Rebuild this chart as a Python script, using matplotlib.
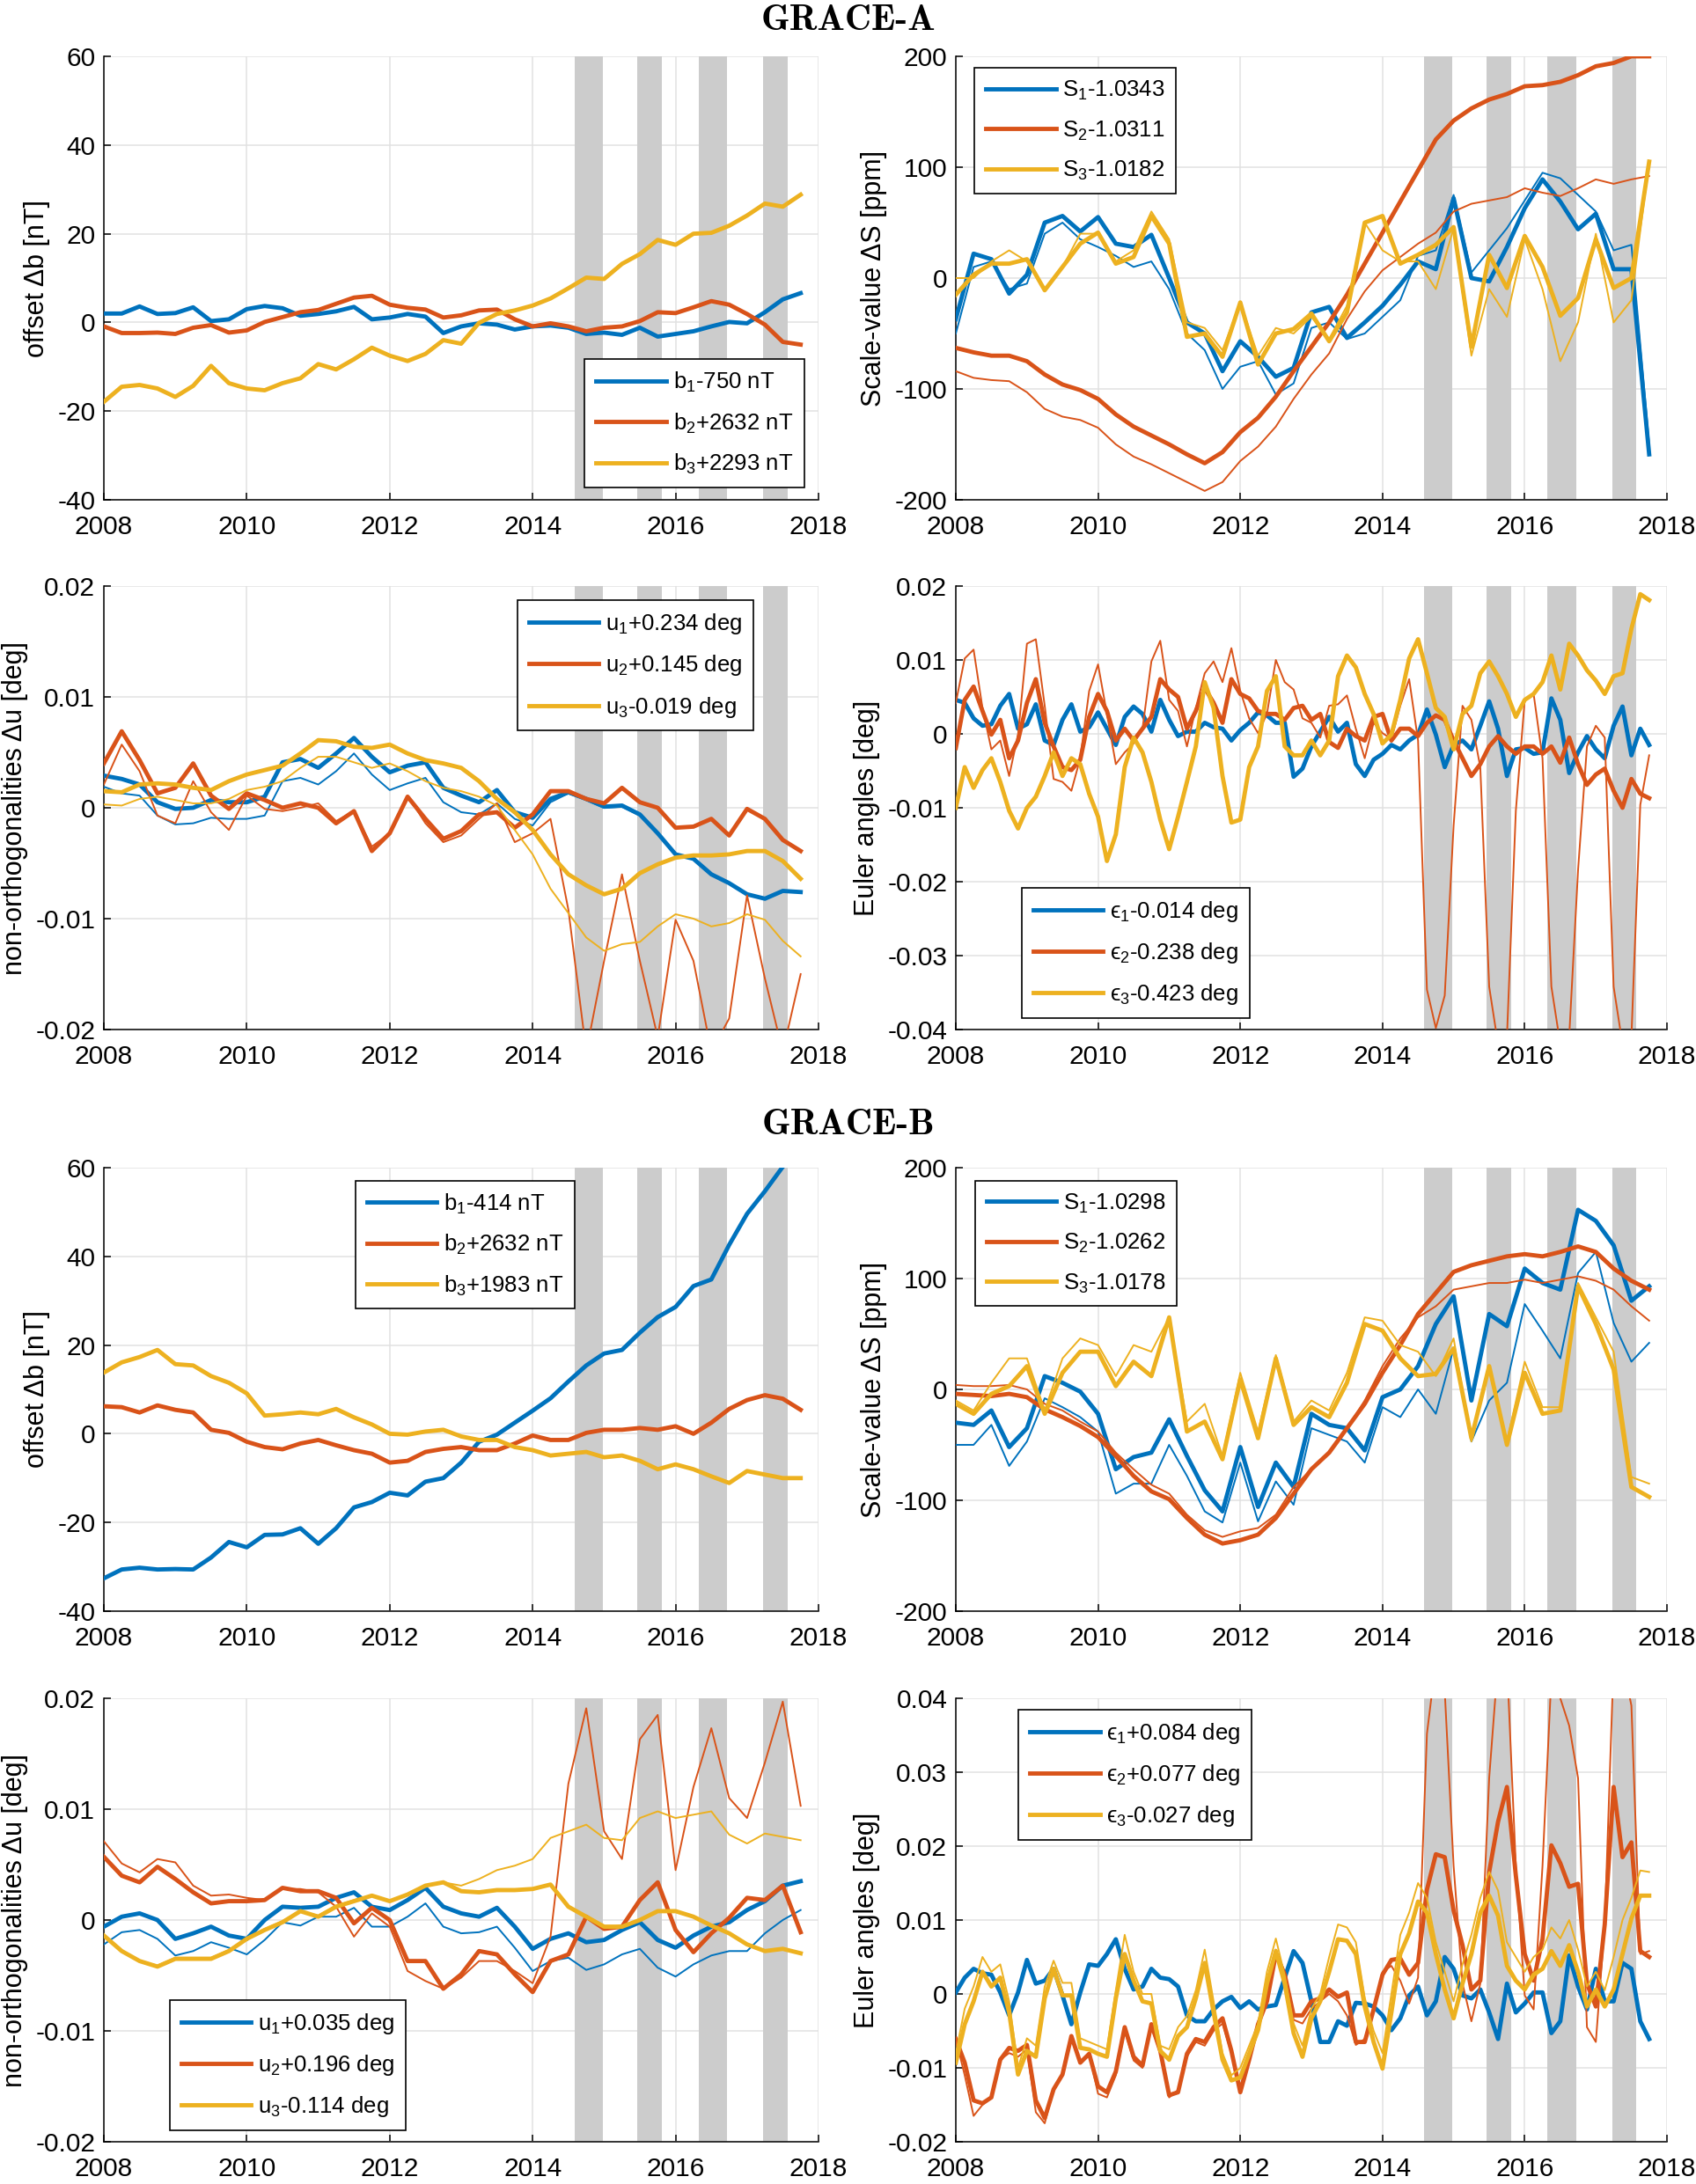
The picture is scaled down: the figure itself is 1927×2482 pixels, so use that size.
import numpy as np
import matplotlib
matplotlib.use('Agg')
import matplotlib.pyplot as plt
from matplotlib.ticker import FuncFormatter

plt.rcParams['font.family'] = ['Liberation Sans', 'DejaVu Sans']
plt.rcParams['mathtext.fontset'] = 'custom'
plt.rcParams['mathtext.rm'] = 'Liberation Sans'
plt.rcParams['mathtext.it'] = 'Liberation Sans:italic'
plt.rcParams['axes.unicode_minus'] = False

# MATLAB default colours
c1, c2, c3 = '#0072BD', '#D95319', '#EDB120'

# time axes: quarterly and eighth-year samples
t4 = 2008 + np.arange(40) / 4.0
t8 = 2008 + np.arange(79) / 8.0

# grey bands (periods of special operation)
bands = [(2014.59, 2014.98), (2015.46, 2015.81), (2016.32, 2016.72), (2017.23, 2017.57)]

# ---------------- GRACE-A ----------------
# offsets [nT]
a_b1 = [2.0, 2.0, 3.6, 1.9, 2.1, 3.4, 0.3, 0.7, 3.0, 3.7, 3.2, 1.5, 1.9, 2.5, 3.5, 0.7,
        1.1, 1.9, 1.3, -2.4, -0.9, -0.2, -0.5, -1.6, -0.9, -0.7, -1.2, -2.6, -2.3, -2.8, -1.2, -3.2,
        -2.6, -2.0, -0.9, 0.1, -0.2, 2.3, 5.2, 6.6]
a_b2 = [-0.9, -2.4, -2.4, -2.3, -2.6, -1.2, -0.6, -2.3, -1.8, 0.1, 1.2, 2.3, 2.8, 4.2, 5.6, 6.0,
        4.0, 3.3, 2.9, 1.1, 1.6, 2.7, 2.9, 0.7, -0.9, -0.2, -0.9, -2.0, -1.2, -0.9, 0.3, 2.3,
        2.1, 3.4, 4.8, 4.0, 1.9, -0.5, -4.4, -5.0]
a_b3 = [-17.9, -14.5, -14.1, -14.9, -16.8, -14.3, -9.8, -13.7, -14.9, -15.3, -13.7, -12.6,
        -9.4, -10.6, -8.3, -5.7, -7.5, -8.7, -7.1, -4.0, -4.8, -0.1, 1.9, 2.7, 3.8, 5.4, 7.7, 10.1,
        9.8, 13.2, 15.4, 18.6, 17.5, 20.0, 20.2, 21.8, 24.1, 26.8, 26.1, 28.8]

# scale values [ppm]
a_s1 = [-37, 22, 17, -14, 3, 50, 56, 42, 55, 31, 28, 39, 0, -40, -50, -84, -57, -71, -89, -81,
        -31, -26, -54, -40, -25, -6, 15, 8, 72, 0, -3, 28, 63, 89, 69, 44, 58, 8, 8, -159]
a_s1_thin = [-50, 10, 15, -10, -5, 40, 50, 35, 28, 20, 10, 15, -10, -50, -65, -100, -80, -75, -105, -95,
             -45, -40, -55, -50, -35, -20, 20, 25, 75, 5, 25, 45, 70, 95, 90, 75, 60, 25, 30, -150]
a_s2 = [-63, -67, -70, -70, -75, -87, -96, -101, -109, -123, -134, -142, -150, -159, -167, -157,
        -139, -126, -107, -84, -62, -40, -15, 13, 41, 69, 97, 125, 142, 153, 161, 166,
        173, 174, 177, 183, 191, 194, 200, 200]
a_s2_thin = [-84, -90, -92, -93, -103, -118, -125, -128, -135, -150, -161, -168, -176, -184, -192, -184,
             -165, -152, -134, -109, -87, -68, -37, -12, 7, 19, 31, 41, 60, 67, 70, 73,
             81, 77, 74, 81, 89, 85, 89, 92]
a_s3 = [-15, 3, 13, 13, 17, -11, 10, 31, 41, 13, 19, 56, 31, -53, -50, -71, -22, -78, -50, -46,
        -32, -57, -31, 50, 56, 13, 21, 30, 46, -62, 21, -9, 38, 10, -34, -18, 35, -9, 0, 105]
a_s3_thin = [0, 0, 15, 25, 15, -10, 10, 40, 40, 15, 25, 60, 35, -40, -45, -65, -22, -70, -45, -50,
             -35, -55, -25, 50, 25, 15, 15, -10, 45, -70, -10, -35, 35, -10, -75, -40, 40, -40, -20, 105]

# non-orthogonalities [deg]
a_u1 = [0.0029, 0.0026, 0.0021, 0.0005, -0.0001, 0.0000, 0.0007, 0.0005, 0.0005, 0.0010, 0.0041, 0.0044,
        0.0036, 0.0049, 0.0063, 0.0046, 0.0032, 0.0038, 0.0041, 0.0018, 0.0011, 0.0005, 0.0016, -0.0004,
        -0.0009, 0.0008, 0.0014, 0.0008, 0.0001, 0.0002, -0.0006, -0.0023, -0.0042, -0.0046, -0.0060, -0.0068,
        -0.0078, -0.0082, -0.0075, -0.0076]
a_u1_thin = [0.0019, 0.0013, 0.0011, -0.0007, -0.0015, -0.0014, -0.0009, -0.0010, -0.0010, -0.0007, 0.0024, 0.0027,
             0.0021, 0.0033, 0.0049, 0.0030, 0.0016, 0.0022, 0.0027, 0.0005, -0.0004, -0.0006, 0.0004, -0.0010,
             -0.0016, 0.0005, 0.0013, 0.0007, 0.0000, 0.0001, -0.0007, -0.0023, -0.0042, -0.0046, -0.0060, -0.0068,
             -0.0078, -0.0082, -0.0075, -0.0076]
a_u2 = [0.0040, 0.0069, 0.0043, 0.0013, 0.0018, 0.0040, 0.0011, -0.0001, 0.0013, 0.0007, 0.0000, 0.0004,
        0.0000, -0.0014, -0.0003, -0.0039, -0.0023, 0.0010, -0.0010, -0.0028, -0.0021, -0.0006, -0.0004, -0.0018,
        -0.0006, 0.0015, 0.0015, 0.0008, 0.0004, 0.0018, 0.0005, 0.0000, -0.0018, -0.0017, -0.0010, -0.0025,
        -0.0001, -0.0010, -0.0029, -0.0039]
a_u2_thin = [0.0021, 0.0057, 0.0033, -0.0007, -0.0014, 0.0024, -0.0004, -0.0020, 0.0011, -0.0001, -0.0003, 0.0000,
             0.0004, -0.0012, -0.0003, -0.0035, -0.0023, 0.0011, -0.0014, -0.0031, -0.0025, -0.0010, 0.0004, -0.0031,
             -0.0023, -0.0010, -0.0092, -0.0220, -0.0138, -0.0060, -0.0138, -0.0207, -0.0101, -0.0138, -0.0220, -0.0190,
             -0.0079, -0.0154, -0.0220, -0.0150]
a_u3 = [0.0015, 0.0014, 0.0021, 0.0022, 0.0021, 0.0018, 0.0016, 0.0024, 0.0030, 0.0034, 0.0038, 0.0049,
        0.0061, 0.0060, 0.0055, 0.0054, 0.0057, 0.0049, 0.0043, 0.0040, 0.0036, 0.0024, 0.0008, -0.0004,
        -0.0020, -0.0042, -0.0060, -0.0070, -0.0078, -0.0073, -0.0059, -0.0051, -0.0045, -0.0043, -0.0043, -0.0042,
        -0.0039, -0.0039, -0.0048, -0.0064]
a_u3_thin = [0.0003, 0.0002, 0.0008, 0.0010, 0.0007, 0.0004, 0.0004, 0.0008, 0.0016, 0.0019, 0.0024, 0.0036,
             0.0046, 0.0046, 0.0041, 0.0036, 0.0040, 0.0033, 0.0024, 0.0018, 0.0015, 0.0010, 0.0002, -0.0020,
             -0.0042, -0.0073, -0.0095, -0.0117, -0.0129, -0.0123, -0.0121, -0.0107, -0.0096, -0.0100, -0.0107, -0.0104,
             -0.0096, -0.0101, -0.0120, -0.0134]

# Euler angles [deg], eighth-year samples
a_e1 = [0.0046, 0.0042, 0.0021, 0.0011, 0.0013, 0.0038, 0.0054, 0.0007,
        0.0013, 0.0040, -0.0009, -0.0015, 0.0019, 0.0040, 0.0003, 0.0009,
        0.0029, 0.0007, -0.0015, 0.0023, 0.0037, 0.0027, 0.0003, 0.0046,
        0.0019, -0.0003, 0.0003, 0.0003, 0.0015, 0.0009, 0.0007, -0.0009,
        0.0005, 0.0015, 0.0029, 0.0025, 0.0015, 0.0015, -0.0058, -0.0047,
        -0.0017, 0.0003, 0.0023, 0.0003, 0.0015, -0.0041, -0.0057, -0.0035,
        -0.0027, -0.0015, -0.0021, -0.0009, -0.0001, 0.0033, -0.0001, -0.0045,
        -0.0015, -0.0009, -0.0021, 0.0011, 0.0044, 0.0007, -0.0057, -0.0021,
        -0.0019, -0.0027, -0.0025, 0.0048, 0.0019, -0.0053, -0.0025, -0.0003,
        -0.0021, -0.0033, 0.0011, 0.0037, -0.0029, 0.0007, -0.0015]
a_e2 = [-0.0019, 0.0046, 0.0064, 0.0031, -0.0001, 0.0019, -0.0033, -0.0009,
        0.0042, 0.0074, 0.0015, -0.0017, -0.0045, -0.0049, -0.0035, 0.0023,
        0.0054, 0.0031, -0.0009, 0.0007, -0.0009, 0.0007, 0.0023, 0.0074,
        0.0060, 0.0050, 0.0007, 0.0031, 0.0062, 0.0042, 0.0015, 0.0074,
        0.0054, 0.0048, 0.0031, 0.0027, 0.0027, 0.0019, 0.0035, 0.0038,
        0.0019, 0.0027, -0.0011, -0.0019, 0.0007, -0.0003, -0.0009, 0.0023,
        0.0027, -0.0009, 0.0007, 0.0007, -0.0003, 0.0015, 0.0025, 0.0019,
        -0.0009, -0.0033, -0.0057, -0.0041, -0.0017, -0.0003, -0.0017, -0.0027,
        -0.0017, -0.0017, -0.0027, -0.0017, -0.0039, -0.0005, -0.0041, -0.0069,
        -0.0055, -0.0047, -0.0077, -0.0100, -0.0061, -0.0081, -0.0087]
a_e2_thin = [0.0042, 0.0102, 0.0114, 0.0035, -0.0021, -0.0009, -0.0057, -0.0001,
             0.0122, 0.0128, 0.0038, -0.0061, -0.0065, -0.0077, -0.0033, 0.0058,
             0.0094, 0.0027, -0.0041, -0.0025, -0.0013, 0.0007, 0.0098, 0.0126,
             0.0046, 0.0031, -0.0017, 0.0035, 0.0082, 0.0098, 0.0070, 0.0116,
             0.0058, 0.0021, 0.0001, 0.0027, 0.0100, 0.0070, 0.0060, 0.0021,
             0.0015, -0.0005, 0.0038, 0.0040, 0.0052, 0.0007, -0.0033, 0.0015,
             0.0001, -0.0007, 0.0038, 0.0074, -0.0009, -0.0346, -0.0398, -0.0354,
             -0.0124, 0.0038, 0.0019, -0.0045, -0.0342, -0.0420, -0.0410, -0.0104,
             0.0046, 0.0054, -0.0033, -0.0342, -0.0420, -0.0410, -0.0184, -0.0017,
             0.0011, -0.0005, -0.0342, -0.0420, -0.0410, -0.0096, -0.0029]
a_e3 = [-0.0100, -0.0045, -0.0073, -0.0049, -0.0033, -0.0065, -0.0104, -0.0128,
        -0.0100, -0.0085, -0.0057, -0.0025, -0.0057, -0.0033, -0.0041, -0.0081,
        -0.0112, -0.0172, -0.0136, -0.0045, -0.0005, -0.0025, -0.0065, -0.0116,
        -0.0156, -0.0112, -0.0065, -0.0017, 0.0070, 0.0035, -0.0057, -0.0120,
        -0.0116, -0.0045, -0.0017, 0.0058, 0.0078, -0.0017, -0.0029, -0.0029,
        -0.0009, -0.0029, -0.0009, 0.0078, 0.0106, 0.0090, 0.0054, 0.0027,
        -0.0013, -0.0001, 0.0046, 0.0102, 0.0128, 0.0082, 0.0035, 0.0023,
        -0.0021, 0.0027, 0.0038, 0.0082, 0.0098, 0.0078, 0.0054, 0.0023,
        0.0046, 0.0054, 0.0070, 0.0106, 0.0060, 0.0122, 0.0106, 0.0086,
        0.0072, 0.0054, 0.0078, 0.0082, 0.0142, 0.0189, 0.0181]

# ---------------- GRACE-B ----------------
b_b1 = [-32.6, -30.6, -30.2, -30.6, -30.5, -30.6, -27.9, -24.4, -25.6, -22.8, -22.7, -21.3,
        -24.8, -21.3, -16.6, -15.4, -13.3, -13.9, -10.8, -10.0, -6.5, -1.8, -0.2, 2.5,
        5.2, 8.0, 11.8, 15.4, 18.1, 18.9, 22.8, 26.3, 28.6, 33.3, 34.8, 42.6, 49.6, 54.7, 60.2, 64.0]
b_b2 = [6.2, 6.0, 4.8, 6.4, 5.4, 4.8, 0.9, 0.2, -1.8, -3.0, -3.5, -2.2, -1.4, -2.6, -3.7, -4.5,
        -6.5, -6.1, -4.1, -3.4, -3.0, -3.7, -3.7, -2.2, -0.4, -1.4, -1.4, 0.2, 0.9, 0.9, 1.3, 0.9,
        1.7, 0.0, 2.5, 5.6, 7.6, 8.7, 7.9, 5.4]
b_b3 = [13.8, 16.1, 17.3, 18.9, 15.7, 15.4, 13.0, 11.5, 9.1, 4.1, 4.4, 4.8, 4.4, 5.6, 3.7, 2.1,
        0.0, -0.2, 0.5, 0.9, -0.6, -1.4, -1.4, -3.0, -3.7, -4.9, -4.5, -4.1, -5.3, -4.9, -6.1, -8.0,
        -6.9, -8.0, -9.6, -11.1, -8.4, -9.2, -10.0, -10.0]

b_s1 = [-30, -32, -19, -52, -35, 12, 6, -2, -22, -72, -61, -57, -27, -60, -91, -110,
        -52, -106, -66, -88, -22, -32, -35, -55, -7, 0, 21, 59, 84, -10, 68, 57,
        109, 96, 90, 162, 152, 130, 80, 93]
b_s1_thin = [-50, -50, -32, -69, -47, -8, -16, -25, -38, -94, -85, -85, -50, -78, -110, -120,
             -66, -119, -83, -104, -35, -41, -47, -66, -16, -25, 0, -22, 37, -47, -10, 6,
             77, 53, 28, 105, 124, 60, 25, 42]
b_s2 = [-4, -5, -6, -4, -7, -18, -25, -33, -43, -60, -78, -92, -99, -116, -131, -139,
        -136, -131, -116, -94, -72, -57, -35, -13, 15, 40, 68, 87, 106, 112, 116, 120,
        122, 120, 124, 129, 124, 109, 98, 90]
b_s2_thin = [4, 3, 3, 4, 0, -13, -19, -29, -38, -57, -72, -86, -94, -113, -127, -133,
             -128, -125, -113, -88, -72, -57, -35, -10, 21, 46, 65, 75, 90, 93, 96, 96,
             99, 96, 99, 102, 98, 90, 75, 62]
b_s3 = [-13, -22, -4, 3, 21, -22, 15, 34, 34, 3, 25, 12, 65, -38, -29, -63,
        9, -44, 28, -32, -16, -25, 6, 59, 53, 28, 12, 14, 37, -44, 21, -50,
        15, -22, -19, 93, 59, 18, -88, -97]
b_s3_thin = [-10, -19, 6, 28, 28, -19, 28, 46, 40, 12, 40, 34, 65, -29, -13, -60,
             15, -38, 31, -29, -10, -19, 15, 65, 62, 40, 34, 12, 46, -47, 21, -47,
             25, -16, -16, 96, 65, 34, -79, -85]

b_u1 = [-0.0006, 0.0003, 0.0006, 0.0000, -0.0017, -0.0012, -0.0006, -0.0014, -0.0017, 0.0000, 0.0012, 0.0011,
        0.0012, 0.0020, 0.0025, 0.0012, 0.0009, 0.0018, 0.0029, 0.0012, 0.0006, 0.0003, 0.0011, -0.0006,
        -0.0026, -0.0017, -0.0012, -0.0020, -0.0018, -0.0009, -0.0002, -0.0018, -0.0025, -0.0014, -0.0006, -0.0002,
        0.0009, 0.0017, 0.0031, 0.0035]
b_u1_thin = [-0.0022, -0.0011, -0.0009, -0.0017, -0.0032, -0.0028, -0.0020, -0.0025, -0.0031, -0.0018, -0.0002, -0.0005,
             0.0003, 0.0003, 0.0011, -0.0006, -0.0006, 0.0003, 0.0015, -0.0006, -0.0012, -0.0011, -0.0006, -0.0025,
             -0.0046, -0.0037, -0.0034, -0.0045, -0.0040, -0.0031, -0.0026, -0.0043, -0.0051, -0.0040, -0.0032, -0.0028,
             -0.0028, -0.0012, 0.0000, 0.0009]
b_u2 = [0.0057, 0.0040, 0.0034, 0.0048, 0.0037, 0.0025, 0.0015, 0.0017, 0.0017, 0.0018, 0.0029, 0.0026,
        0.0026, 0.0020, -0.0003, 0.0011, 0.0000, -0.0037, -0.0037, -0.0062, -0.0049, -0.0028, -0.0031, -0.0049,
        -0.0065, -0.0037, -0.0031, 0.0003, -0.0008, -0.0006, 0.0018, 0.0034, -0.0009, -0.0029, -0.0012, 0.0002,
        0.0020, 0.0018, 0.0031, -0.0011]
b_u2_thin = [0.0071, 0.0051, 0.0043, 0.0055, 0.0052, 0.0031, 0.0022, 0.0023, 0.0020, 0.0018, 0.0028, 0.0028,
             0.0025, 0.0012, -0.0015, 0.0006, -0.0006, -0.0046, -0.0055, -0.0062, -0.0052, -0.0037, -0.0037, -0.0046,
             -0.0057, -0.0015, 0.0123, 0.0191, 0.0080, 0.0055, 0.0163, 0.0185, 0.0045, 0.0120, 0.0173, 0.0110,
             0.0092, 0.0142, 0.0197, 0.0103]
b_u3 = [-0.0014, -0.0028, -0.0037, -0.0042, -0.0035, -0.0035, -0.0035, -0.0028, -0.0017, -0.0009, -0.0002, 0.0008,
        0.0003, 0.0012, 0.0017, 0.0022, 0.0017, 0.0023, 0.0031, 0.0034, 0.0026, 0.0025, 0.0027, 0.0027,
        0.0028, 0.0032, 0.0012, 0.0003, -0.0006, -0.0006, 0.0000, 0.0008, 0.0008, 0.0003, -0.0005, -0.0012,
        -0.0022, -0.0028, -0.0026, -0.0030]
b_u3_thin = [-0.0014, -0.0028, -0.0037, -0.0041, -0.0034, -0.0034, -0.0034, -0.0027, -0.0016, -0.0008, -0.0001, 0.0008,
             0.0004, 0.0013, 0.0018, 0.0022, 0.0017, 0.0023, 0.0031, 0.0034, 0.0031, 0.0037, 0.0045, 0.0049,
             0.0055, 0.0074, 0.0080, 0.0086, 0.0074, 0.0072, 0.0092, 0.0098, 0.0092, 0.0095, 0.0098, 0.0077,
             0.0069, 0.0078, 0.0075, 0.0072]

b_e1 = [0.0002, 0.0022, 0.0034, 0.0028, 0.0026, 0.0002, -0.0029, 0.0002,
        0.0046, 0.0014, 0.0018, 0.0034, -0.0002, -0.0041, 0.0002, 0.0040,
        0.0038, 0.0054, 0.0074, 0.0034, 0.0006, 0.0010, 0.0034, 0.0022,
        0.0020, 0.0010, -0.0029, -0.0037, -0.0037, -0.0021, -0.0010, -0.0004,
        -0.0019, -0.0010, -0.0021, -0.0017, -0.0015, 0.0022, 0.0058, 0.0042,
        -0.0010, -0.0065, -0.0065, -0.0037, -0.0043, -0.0012, -0.0013, -0.0017,
        -0.0029, -0.0049, -0.0033, -0.0002, 0.0010, -0.0029, -0.0010, 0.0050,
        0.0034, -0.0002, -0.0006, 0.0006, -0.0025, -0.0061, 0.0014, -0.0025,
        -0.0013, 0.0002, 0.0002, -0.0053, -0.0037, 0.0052, 0.0010, -0.0021,
        0.0034, -0.0010, -0.0010, 0.0042, 0.0034, -0.0037, -0.0061]
b_e2 = [-0.0061, -0.0093, -0.0144, -0.0148, -0.0140, -0.0089, -0.0073, -0.0077,
        -0.0069, -0.0144, -0.0168, -0.0129, -0.0109, -0.0057, -0.0093, -0.0081,
        -0.0125, -0.0133, -0.0105, -0.0045, -0.0085, -0.0097, -0.0041, -0.0077,
        -0.0137, -0.0133, -0.0081, -0.0061, -0.0065, -0.0045, -0.0033, -0.0077,
        -0.0133, -0.0089, -0.0041, -0.0010, 0.0054, 0.0026, -0.0029, -0.0029,
        -0.0010, -0.0006, 0.0006, -0.0004, 0.0002, -0.0065, -0.0065, -0.0021,
        0.0026, 0.0046, 0.0048, 0.0026, 0.0042, 0.0141, 0.0189, 0.0185,
        0.0113, 0.0066, 0.0006, 0.0018, 0.0165, 0.0233, 0.0280, 0.0160,
        0.0054, 0.0018, 0.0074, 0.0201, 0.0177, 0.0145, 0.0149, 0.0014,
        -0.0017, 0.0094, 0.0280, 0.0185, 0.0205, 0.0058, 0.0050]
b_e2_thin = [-0.0061, -0.0110, -0.0165, -0.0150, -0.0140, -0.0089, -0.0080, -0.0085,
             -0.0075, -0.0160, -0.0175, -0.0129, -0.0109, -0.0060, -0.0093, -0.0081,
             -0.0135, -0.0140, -0.0110, -0.0050, -0.0090, -0.0100, -0.0045, -0.0080,
             -0.0140, -0.0130, -0.0085, -0.0065, -0.0070, -0.0050, -0.0040, -0.0080,
             -0.0125, -0.0085, -0.0040, -0.0010, 0.0060, 0.0030, -0.0035, -0.0040,
             -0.0020, -0.0010, 0.0000, -0.0010, -0.0029, -0.0069, -0.0061, -0.0021,
             0.0030, 0.0038, 0.0018, -0.0013, 0.0022, 0.0352, 0.0450, 0.0410,
             0.0173, 0.0014, -0.0037, 0.0014, 0.0292, 0.0450, 0.0450, 0.0173,
             -0.0002, -0.0021, 0.0173, 0.0430, 0.0400, 0.0363, 0.0292, -0.0045,
             -0.0065, 0.0094, 0.0450, 0.0450, 0.0390, 0.0054, 0.0058]
b_e3 = [-0.0093, -0.0041, -0.0010, 0.0030, 0.0010, 0.0022, -0.0025, -0.0109,
        -0.0077, -0.0085, -0.0006, 0.0034, -0.0002, -0.0002, -0.0073, -0.0075,
        -0.0081, -0.0085, -0.0006, 0.0054, 0.0018, -0.0010, -0.0013, -0.0077,
        -0.0089, -0.0057, -0.0045, -0.0006, 0.0042, -0.0025, -0.0089, -0.0117,
        -0.0113, -0.0081, -0.0049, 0.0014, 0.0058, 0.0014, -0.0053, -0.0085,
        -0.0033, -0.0010, 0.0030, 0.0074, 0.0072, 0.0054, -0.0017, -0.0065,
        -0.0101, -0.0025, 0.0054, 0.0082, 0.0125, 0.0110, 0.0054, 0.0006,
        -0.0033, 0.0014, 0.0054, 0.0110, 0.0133, 0.0106, 0.0038, 0.0018,
        0.0006, 0.0026, 0.0034, 0.0058, 0.0038, 0.0066, 0.0030, -0.0017,
        0.0006, -0.0017, 0.0006, 0.0054, 0.0102, 0.0133, 0.0133]
b_e3_thin = [-0.0080, -0.0020, 0.0010, 0.0050, 0.0030, 0.0040, -0.0010, -0.0100,
             -0.0060, -0.0070, 0.0010, 0.0045, 0.0015, 0.0015, -0.0060, -0.0065,
             -0.0070, -0.0075, 0.0005, 0.0080, 0.0030, 0.0000, 0.0000, -0.0070,
             -0.0075, -0.0045, -0.0030, 0.0005, 0.0060, -0.0010, -0.0080, -0.0110,
             -0.0100, -0.0070, -0.0040, 0.0030, 0.0075, 0.0025, -0.0040, -0.0070,
             -0.0020, 0.0000, 0.0050, 0.0094, 0.0090, 0.0070, -0.0005, -0.0050,
             -0.0080, 0.0000, 0.0080, 0.0110, 0.0150, 0.0130, 0.0070, 0.0030,
             -0.0010, 0.0040, 0.0080, 0.0130, 0.0165, 0.0140, 0.0070, 0.0050,
             0.0030, 0.0050, 0.0060, 0.0090, 0.0075, 0.0100, 0.0060, 0.0010,
             0.0030, 0.0005, 0.0050, 0.0100, 0.0130, 0.0167, 0.0165]

# legend texts
leg_a1 = ['b$_1$-750 nT', 'b$_2$+2632 nT', 'b$_3$+2293 nT']
leg_a2 = ['S$_1$-1.0343', 'S$_2$-1.0311', 'S$_3$-1.0182']
leg_a3 = ['u$_1$+0.234 deg', 'u$_2$+0.145 deg', 'u$_3$-0.019 deg']
leg_a4 = ['\u03f5$_1$-0.014 deg', '\u03f5$_2$-0.238 deg', '\u03f5$_3$-0.423 deg']
leg_b1 = ['b$_1$-414 nT', 'b$_2$+2632 nT', 'b$_3$+1983 nT']
leg_b2 = ['S$_1$-1.0298', 'S$_2$-1.0262', 'S$_3$-1.0178']
leg_b3 = ['u$_1$+0.035 deg', 'u$_2$+0.196 deg', 'u$_3$-0.114 deg']
leg_b4 = ['\u03f5$_1$+0.084 deg', '\u03f5$_2$+0.077 deg', '\u03f5$_3$-0.027 deg']

W, H = 1927, 2482
fig = plt.figure(figsize=(W / 100, H / 100), dpi=100, facecolor='w')

cols = [118 / W, 1086 / W]
widths = [812 / W, 808 / W]
row_bottoms = [568, 1170, 1831, 2434]
ah = 504 / H


def panel(row, col, t, thick, thin, labels, ylim, yticks, ylabel, loc, anchor):
    ax = fig.add_axes([cols[col], 1 - row_bottoms[row] / H, widths[col], ah])
    for a, b in bands:
        ax.axvspan(a, b, color='#cccccc', lw=0, zorder=1)
    lines = []
    for y1, y2, c in zip(thick, thin, [c1, c2, c3]):
        ln, = ax.plot(t, y1, color=c, lw=3.5, zorder=3)
        ax.plot(t, y2, color=c, lw=1.4, zorder=3)
        lines.append(ln)
    ax.set_xlim(2008, 2018)
    ax.set_ylim(*ylim)
    ax.set_xticks([2008, 2010, 2012, 2014, 2016, 2018])
    ax.set_yticks(yticks)
    ax.yaxis.set_major_formatter(FuncFormatter(lambda v, p: '%g' % round(v, 6)))
    ax.set_axisbelow(True)
    ax.grid(True, color='#e1e1e1', lw=1.1)
    for s in ['top', 'right']:
        ax.spines[s].set_visible(False)
    for s in ['left', 'bottom']:
        ax.spines[s].set_linewidth(1.1)
    ax.tick_params(direction='in', length=6, width=1.1, labelsize=21.5, top=False, right=False)
    ax.tick_params(axis='x', pad=12)
    ax.tick_params(axis='y', pad=7)
    ax.set_ylabel(ylabel, fontsize=22, labelpad=6)
    leg = ax.legend(lines, labels, loc=loc, bbox_to_anchor=anchor, fontsize=18.5,
                    handlelength=3.1, handletextpad=0.3, labelspacing=0.75,
                    borderpad=0.5, borderaxespad=0, fancybox=False, framealpha=1)
    leg.get_frame().set_edgecolor('k')
    leg.get_frame().set_linewidth(1.2)
    leg.set_zorder(5)
    return ax


off = 'offset Δb [nT]'
scl = 'Scale-value ΔS [ppm]'
nor = 'non-orthogonalities Δu [deg]'
eul = 'Euler angles [deg]'

panel(0, 0, t4, [a_b1, a_b2, a_b3], [a_b1, a_b2, a_b3], leg_a1, (-40, 60), [-40, -20, 0, 20, 40, 60],
      off, 'lower right', (0.980, 0.028))
panel(0, 1, t4, [a_s1, a_s2, a_s3], [a_s1_thin, a_s2_thin, a_s3_thin], leg_a2, (-200, 200),
      [-200, -100, 0, 100, 200], scl, 'upper left', (0.026, 0.974))
panel(1, 0, t4, [a_u1, a_u2, a_u3], [a_u1_thin, a_u2_thin, a_u3_thin], leg_a3, (-0.02, 0.02),
      [-0.02, -0.01, 0, 0.01, 0.02], nor, 'upper right', (0.909, 0.968))
panel(1, 1, t8, [a_e1, a_e2, a_e3], [a_e1, a_e2_thin, a_e3], leg_a4, (-0.04, 0.02),
      [-0.04, -0.03, -0.02, -0.01, 0, 0.01, 0.02], eul, 'lower left', (0.0925, 0.026))
panel(2, 0, t4, [b_b1, b_b2, b_b3], [b_b1, b_b2, b_b3], leg_b1, (-40, 60), [-40, -20, 0, 20, 40, 60],
      off, 'upper left', (0.352, 0.971))
panel(2, 1, t4, [b_s1, b_s2, b_s3], [b_s1_thin, b_s2_thin, b_s3_thin], leg_b2, (-200, 200),
      [-200, -100, 0, 100, 200], scl, 'upper left', (0.027, 0.971))
panel(3, 0, t4, [b_u1, b_u2, b_u3], [b_u1_thin, b_u2_thin, b_u3_thin], leg_b3, (-0.02, 0.02),
      [-0.02, -0.01, 0, 0.01, 0.02], nor, 'lower left', (0.092, 0.026))
panel(3, 1, t8, [b_e1, b_e2, b_e3], [b_e1, b_e2_thin, b_e3_thin], leg_b4, (-0.02, 0.04),
      [-0.02, -0.01, 0, 0.01, 0.02, 0.03, 0.04], eul, 'upper left', (0.088, 0.974))

fig.text(0.5, 1 - 24 / H, 'GRACE-A', ha='center', va='center', fontsize=30,
         family=['cmb10', 'DejaVu Serif'])
fig.text(0.5, 1 - 1279 / H, 'GRACE-B', ha='center', va='center', fontsize=30,
         family=['cmb10', 'DejaVu Serif'])

fig.savefig('out.png', dpi=100, facecolor='w')
